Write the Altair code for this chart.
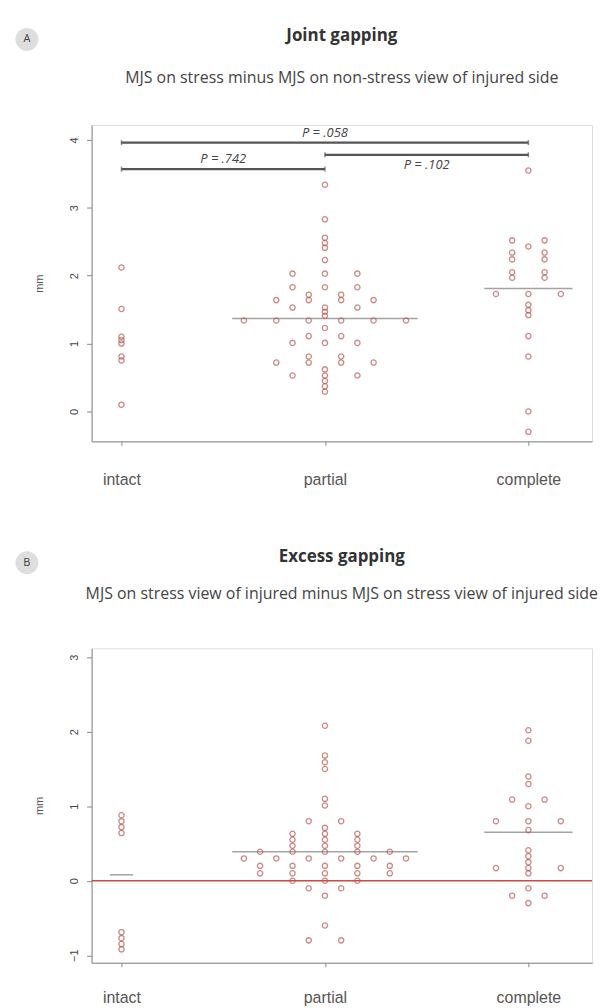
import altair as alt
import pandas as pd

CATEGORIES = ["intact", "partial", "complete"]

# ---- Panel A: Joint gapping (mm), one entry per dot ----
A_INTACT = [2.12, 1.51, 1.10, 1.05, 1.00, 0.81, 0.75, 0.10]
A_PARTIAL = [3.34, 2.83, 2.56, 2.48, 2.41, 2.23,
             2.03, 2.03, 2.03, 1.83, 1.83, 1.83, 1.72, 1.72,
             1.64, 1.64, 1.64, 1.64, 1.53, 1.53, 1.53, 1.47, 1.41,
             1.34, 1.34, 1.34, 1.34, 1.34, 1.34, 1.23, 1.11, 1.11,
             1.01, 1.01, 1.01, 0.81, 0.81, 0.72, 0.72, 0.72, 0.72,
             0.62, 0.53, 0.53, 0.53, 0.45, 0.37, 0.29]
A_COMPLETE = [3.55, 2.52, 2.52, 2.43, 2.34, 2.34, 2.24, 2.24,
              2.05, 2.05, 1.97, 1.97, 1.73, 1.73, 1.73,
              1.57, 1.49, 1.42, 1.11, 0.81, 0.00, -0.30]
A_MEDIANS = [None, 1.37, 1.81]   # no median line is visible for "intact"

# P-value brackets in panel A
P_LABELS = ["P = .058", "P = .742", "P = .102"]
P_FROM = [0, 0, 1]
P_TO = [2, 1, 2]
P_LEVEL = [3.96, 3.57, 3.78]
P_SIDE = ["above", "above", "below"]

# ---- Panel B: Excess gapping (mm) ----
B_INTACT = [0.88, 0.80, 0.72, 0.64, -0.69, -0.77, -0.85, -0.92]
B_PARTIAL = [2.08, 1.68, 1.59, 1.50, 1.10, 1.01, 0.80, 0.80, 0.71,
             0.63, 0.63, 0.63, 0.55, 0.55, 0.55, 0.47, 0.47, 0.47,
             0.39, 0.39, 0.39, 0.39, 0.39,
             0.30, 0.30, 0.30, 0.30, 0.30, 0.30,
             0.20, 0.20, 0.20, 0.20, 0.20,
             0.10, 0.10, 0.10, 0.10, 0.10,
             0.00, 0.00, 0.00, -0.10, -0.10, -0.20, -0.60, -0.80, -0.80]
B_COMPLETE = [2.02, 1.88, 1.40, 1.30, 1.09, 1.09, 1.00,
              0.80, 0.80, 0.80, 0.68, 0.41, 0.33, 0.25,
              0.17, 0.17, 0.17, 0.10, -0.10, -0.20, -0.20, -0.30]
B_MEDIANS = [0.08, 0.39, 0.65]

FONT = "Open Sans"
DOT = "#b65a50"
AXIS = "#8f8f8f"
DOT_STEP = 0.1594  # horizontal spacing of dots in a row (x-scale units)
X_DOMAIN = [-0.147, 2.313]
W = 503


def dot_table(groups):
    rows = []
    for ci, vals in enumerate(groups):
        counts = {}
        for v in vals:
            counts[v] = counts.get(v, 0) + 1
        seen = {}
        for v in vals:
            n = counts[v]
            i = seen.get(v, 0)
            seen[v] = i + 1
            off = i - (n - 1) / 2
            rows.append({"cat": CATEGORIES[ci], "value": v, "off": off,
                         "x": ci + off * DOT_STEP})
    return pd.DataFrame(rows)


def median_table(pts, medians):
    rows = []
    for ci, m in enumerate(medians):
        if m is None:
            continue
        sub = pts[pts["cat"] == CATEGORIES[ci]]
        half = (sub["off"].abs().max() + 0.36) * DOT_STEP
        rows.append({"value": m, "x": ci - half, "x2": ci + half})
    return pd.DataFrame(rows)


label_expr = "[" + ",".join("'%s'" % c for c in CATEGORIES) + "][datum.value]"


def make_x(label_pad):
    def xenc(field="x"):
        return alt.X(f"{field}:Q",
                     scale=alt.Scale(domain=X_DOMAIN, nice=False, zero=False),
                     axis=alt.Axis(values=[0, 1, 2], labelExpr=label_expr,
                                   title=None, grid=False, tickSize=4,
                                   labelPadding=label_pad, labelFontSize=16,
                                   labelColor="#555"))
    return xenc


def yenc(domain, ticks):
    return alt.Y("value:Q",
                 scale=alt.Scale(domain=domain, nice=False, zero=False),
                 axis=alt.Axis(values=ticks, title="mm", grid=False, tickSize=5,
                               labelAngle=270, labelAlign="center",
                               labelBaseline="bottom", labelPadding=7,
                               labelFontSize=11, labelColor="#444",
                               titleFontSize=11, titleFontWeight="normal",
                               titleColor="#555", titlePadding=24))


def badge(letter):
    df = pd.DataFrame({"t": [letter]})
    circ = alt.Chart(df).mark_point(shape="circle", filled=True, color="#dedede",
                                    opacity=1).encode(
        x=alt.value(-65), y=alt.value(-86), size=alt.value(530))
    txt = alt.Chart(df).mark_text(fontSize=11, font=FONT, color="#444",
                                  baseline="middle").encode(
        x=alt.value(-65), y=alt.value(-86), text="t:N")
    return [circ, txt]


def panel(groups, medians, domain, ticks, height, title, subtitle, letter,
          offset, sub_pad, label_pad, extra_layers):
    xenc = make_x(label_pad)
    pts = dot_table(groups)
    med = median_table(pts, medians)
    y = yenc(domain, ticks)
    med_layer = alt.Chart(med).mark_rule(color="#a3a3a3", strokeWidth=1.5).encode(
        x=xenc(), x2="x2:Q", y=y)
    dot_layer = alt.Chart(pts).mark_point(shape="circle", filled=False, size=28,
                                          strokeWidth=1.3, color=DOT).encode(
        x=xenc(), y=y)
    layers = extra_layers(xenc, y) + [med_layer, dot_layer] + badge(letter)
    return alt.layer(*layers).properties(
        width=W, height=height,
        title=alt.TitleParams(title, subtitle=subtitle, anchor="middle",
                              fontSize=17, fontWeight="bold", font=FONT,
                              color="#333", subtitleFontSize=16,
                              subtitleFont=FONT, subtitleColor="#444",
                              subtitlePadding=sub_pad, offset=offset))


def a_extras(xenc, y):
    br = pd.DataFrame({"label": P_LABELS, "x": P_FROM, "x2": P_TO,
                       "value": P_LEVEL, "side": P_SIDE})
    br["mid"] = (br["x"] + br["x2"]) / 2
    ends = pd.DataFrame({"x": P_FROM + P_TO, "value": P_LEVEL + P_LEVEL})
    rules = alt.Chart(br).mark_rule(color="#555", strokeWidth=2.2).encode(
        x=xenc(), x2="x2:Q", y=y)
    ticks = alt.Chart(ends).mark_tick(orient="vertical", size=5, thickness=1.5,
                                      color="#555").encode(x=xenc(), y=y)
    above = alt.Chart(br).transform_filter("datum.side == 'above'").mark_text(
        font=FONT, fontSize=13, fontStyle="italic", color="#444",
        baseline="bottom", dy=-3).encode(x=xenc("mid"), y=y, text="label:N")
    below = alt.Chart(br).transform_filter("datum.side == 'below'").mark_text(
        font=FONT, fontSize=13, fontStyle="italic", color="#444",
        baseline="top", dy=4).encode(x=xenc("mid"), y=y, text="label:N")
    return [rules, ticks, above, below]


def b_extras(xenc, y):
    zero = pd.DataFrame({"value": [0.0]})
    return [alt.Chart(zero).mark_rule(color="#cc4a3f", strokeWidth=1.6).encode(y=y)]


chart_a = panel([A_INTACT, A_PARTIAL, A_COMPLETE], A_MEDIANS, [-0.44, 4.22],
                [0, 1, 2, 3, 4], 318, "Joint gapping",
                "MJS on stress minus MJS on non-stress view of injured side",
                "A", -59, 25, 26, a_extras)
chart_b = panel([B_INTACT, B_PARTIAL, B_COMPLETE], B_MEDIANS, [-1.10, 3.12],
                [-1, 0, 1, 2, 3], 316, "Excess gapping",
                "MJS on stress view of injured minus MJS on stress view of injured side",
                "B", -52, 20, 23, b_extras)

chart = alt.vconcat(chart_a, chart_b, spacing=59).properties(
    padding={"left": 6, "top": 15, "right": 5, "bottom": 5}
).configure_view(stroke=None).configure_axis(
    domainColor=AXIS, domainWidth=1.5, tickColor=AXIS, tickWidth=1.2,
    labelFont=FONT, titleFont=FONT
).configure(background="white")

chart.save("out.html", embed_options={"renderer": "svg", "actions": False})
